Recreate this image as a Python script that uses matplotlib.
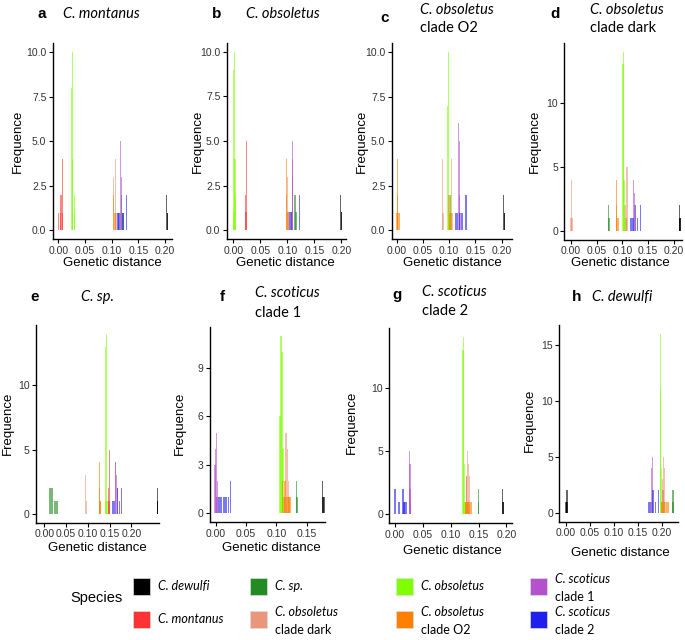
import matplotlib
matplotlib.use("Agg")
import matplotlib.pyplot as plt
from matplotlib.patches import Rectangle

W, H = 685, 640

# ---------------- species ----------------
SPECIES = ["dew", "mon", "sp", "dark", "obs", "o2", "sc1", "sc2"]
SPECIES_LABELS = ["C. dewulfi", "C. montanus", "C. sp.", "C. obsoletus\nclade dark",
                  "C. obsoletus", "C. obsoletus\nclade O2", "C. scoticus\nclade 1",
                  "C. scoticus\nclade 2"]
SPECIES_COLORS = ["#000000", "#FF3333", "#228B22", "#E9967A",
                  "#7FFF00", "#FF7F00", "#B452CD", "#2020EE"]

# ---------------- data: (species, distance, count) per panel ----------------
A_SP = ["mon", "mon", "mon", "mon", "mon",
        "obs", "obs", "obs", "obs", "obs", "obs",
        "o2", "o2", "o2", "dark", "dark", "dark",
        "sc1", "sc1", "sc1", "sc2", "sc2", "sc2", "sc2",
        "sp", "sp", "dew", "dew", "dew"]
A_X = [0.001, 0.004, 0.005, 0.008, 0.008,
       0.025, 0.026, 0.027, 0.026, 0.031, 0.031,
       0.104, 0.105, 0.107, 0.103, 0.107, 0.108,
       0.117, 0.118, 0.116, 0.112, 0.114, 0.121, 0.128,
       0.119, 0.121, 0.203, 0.204, 0.204]
A_H = [1, 1, 2, 4, 1,
       8, 10, 4, 1, 2, 1,
       2, 1, 1, 3, 4, 1,
       5, 3, 1, 1, 1, 1, 2,
       2, 1, 2, 1, 1]

B_SP = ["obs", "obs", "obs", "obs", "obs", "obs",
        "mon", "mon", "mon", "mon",
        "o2", "o2", "o2", "o2", "dark", "dark",
        "sc1", "sc1", "sc1", "sc1", "sc2", "sc2", "sc2", "sc2",
        "sp", "sp", "dew", "dew", "dew"]
B_X = [0.000, 0.002, 0.003, 0.0045, 0.001, 0.002,
       0.022, 0.022, 0.025, 0.024,
       0.098, 0.099, 0.100, 0.102, 0.100, 0.101,
       0.110, 0.109, 0.110, 0.108, 0.104, 0.106, 0.108, 0.123,
       0.114, 0.116, 0.198, 0.200, 0.200]
B_H = [9, 10, 4, 2, 1, 1,
       2, 1, 5, 1,
       4, 2, 1, 1, 3, 1,
       5, 4, 3, 1, 1, 1, 1, 2,
       2, 1, 2, 1, 1]

C_SP = ["o2", "o2", "o2", "o2", "o2", "o2",
        "dark", "dark", "dark", "dark",
        "obs", "obs", "obs", "obs", "obs",
        "o2", "o2", "o2", "mon", "mon", "sp",
        "sc1", "sc1", "sc1", "sc1",
        "sc2", "sc2", "sc2", "sc2", "sc2", "sc2",
        "dew", "dew", "dew"]
C_X = [0.001, 0.001, 0.000, 0.002, 0.004, 0.006,
       0.087, 0.088, 0.105, 0.106,
       0.098, 0.097, 0.099, 0.100, 0.102,
       0.100, 0.103, 0.104, 0.099, 0.100, 0.103,
       0.118, 0.119, 0.120, 0.121,
       0.113, 0.116, 0.120, 0.123, 0.126, 0.132,
       0.204, 0.205, 0.205]
C_H = [4, 2, 1, 1, 1, 1,
       4, 1, 4, 1,
       10, 7, 1, 1, 2,
       2, 1, 1, 2, 1, 2,
       6, 5, 2, 1,
       1, 1, 1, 1, 1, 2,
       2, 1, 1]

D_SP = ["dark", "dark", "dark", "sp", "sp",
        "o2", "o2", "o2", "o2", "o2",
        "obs", "obs", "obs", "obs", "obs",
        "dark", "dark", "dark", "dark", "mon",
        "sc1", "sc1", "sc1",
        "sc2", "sc2", "sc2", "sc2", "sc2", "sc2",
        "dew", "dew", "dew"]
D_X = [0.000, 0.001, 0.002, 0.073, 0.074,
       0.088, 0.088, 0.089, 0.091, 0.093,
       0.102, 0.101, 0.103, 0.104, 0.106,
       0.109, 0.105, 0.106, 0.108, 0.108,
       0.122, 0.124, 0.123,
       0.117, 0.119, 0.121, 0.126, 0.129, 0.136,
       0.211, 0.212, 0.212]
D_H = [1, 4, 1, 2, 1,
       4, 2, 1, 1, 1,
       14, 13, 4, 1, 1,
       5, 2, 1, 1, 1,
       4, 3, 2,
       1, 1, 1, 2, 1, 2,
       2, 1, 1]

E_SP = ["sp", "sp", "sp", "sp", "sp", "sp", "sp", "sp",
        "dark", "dark",
        "o2", "o2", "o2", "o2", "o2",
        "obs", "obs", "obs", "obs", "obs",
        "mon", "mon", "mon", "mon",
        "sc1", "sc1", "sc1", "sc1",
        "sc2", "sc2", "sc2", "sc2", "sc2", "sc2",
        "dew", "dew", "dew"]
E_X = [0.012, 0.014, 0.016, 0.018, 0.023, 0.025, 0.027, 0.030,
       0.094, 0.096,
       0.126, 0.127, 0.127, 0.129, 0.130,
       0.140, 0.142, 0.141, 0.143, 0.144,
       0.149, 0.147, 0.148, 0.150,
       0.163, 0.164, 0.166, 0.167,
       0.157, 0.159, 0.161, 0.167, 0.172, 0.178,
       0.259, 0.260, 0.260]
E_H = [2, 2, 2, 2, 1, 1, 1, 1,
       3, 1,
       4, 2, 1, 1, 1,
       13, 14, 1, 1, 1,
       5, 2, 1, 1,
       4, 4, 3, 2,
       1, 1, 1, 2, 1, 2,
       2, 1, 1]

F_SP = ["sc1", "sc1", "sc1", "sc1", "sc1", "sc1",
        "sc2", "sc2", "sc2", "sc2", "sc2", "sc2", "sc2", "sc2",
        "obs", "obs", "obs", "obs", "obs", "obs",
        "mon", "mon",
        "o2", "o2", "o2", "o2", "o2", "o2",
        "dark", "dark", "dark", "dark",
        "sp", "sp", "dew", "dew", "dew"]
F_X = [-0.001, 0.000, 0.001, 0.003, 0.002, 0.001,
       0.0044, 0.0071, 0.0099, 0.0126, 0.0154, 0.0181, 0.0209, 0.0247,
       0.106, 0.1075, 0.109, 0.111, 0.110, 0.112,
       0.112, 0.113,
       0.110, 0.114, 0.117, 0.119, 0.121, 0.122,
       0.116, 0.118, 0.120, 0.116,
       0.133, 0.134, 0.176, 0.177, 0.178]
F_H = [3, 4, 5, 2, 1, 1,
       1, 1, 1, 1, 1, 1, 1, 2,
       6, 11, 10, 4, 1, 1,
       1, 1,
       2, 2, 1, 1, 1, 1,
       5, 4, 2, 1,
       2, 1, 2, 1, 1]

G_SP = ["sc2", "sc2", "sc2", "sc2", "sc2", "sc2",
        "sc1", "sc1", "sc1", "sc1",
        "obs", "obs", "obs", "obs", "obs",
        "dark", "dark", "dark", "dark", "mon", "mon",
        "o2", "o2", "o2", "o2", "o2", "o2",
        "sp", "sp", "dew", "dew", "dew"]
G_X = [0.000, 0.007, 0.014, 0.016, 0.018, 0.020,
       0.026, 0.027, 0.027, 0.028,
       0.122, 0.123, 0.125, 0.126, 0.124,
       0.130, 0.132, 0.134, 0.129, 0.128, 0.127,
       0.126, 0.129, 0.131, 0.133, 0.135, 0.137,
       0.150, 0.150, 0.193, 0.194, 0.195]
G_H = [2, 1, 2, 1, 1, 1,
       5, 4, 2, 1,
       13, 14, 4, 1, 1,
       5, 4, 3, 1, 3, 1,
       1, 1, 1, 1, 1, 1,
       2, 1, 2, 1, 1]

H_SP = ["dew", "dew", "dew", "dew",
        "sc2", "sc2", "sc2", "sc2", "sc2", "sc2",
        "sc1", "sc1", "sc1",
        "obs", "obs", "obs", "obs", "obs",
        "dark", "dark", "dark", "dark", "dark",
        "o2", "o2", "o2", "o2", "o2", "o2",
        "mon", "mon", "sp", "sp"]
H_X = [0.000, 0.001, 0.002, 0.002,
       0.172, 0.174, 0.176, 0.182, 0.187, 0.193,
       0.179, 0.181, 0.180,
       0.197, 0.198, 0.200, 0.199, 0.201,
       0.204, 0.207, 0.202, 0.205, 0.208,
       0.201, 0.204, 0.207, 0.210, 0.213, 0.215,
       0.203, 0.203, 0.224, 0.224]
H_H = [1, 1, 2, 1,
       1, 1, 1, 2, 1, 2,
       4, 5, 1,
       11, 16, 4, 1, 1,
       5, 4, 3, 1, 1,
       1, 1, 1, 1, 1, 1,
       2, 1, 2, 1]

PANEL_LETTERS = ["a", "b", "c", "d", "e", "f", "g", "h"]
PANEL_TITLES = ["C. montanus", "C. obsoletus", "C. obsoletus", "C. obsoletus",
                "C. sp.", "C. scoticus", "C. scoticus", "C. dewulfi"]
PANEL_SUBTITLES = ["", "", "clade O2", "clade dark", "", "clade 1", "clade 2", ""]

# ---------------- layout (pixels) ----------------
PANELS = [
    dict(d=(A_SP, A_X, A_H), r=(52.7, 43, 171.7, 239.3), xl=(-0.0105, 0.2125), yl=(-0.5, 10.5),
         xt=[0, 0.05, 0.10, 0.15, 0.20], yt=[0, 2.5, 5, 7.5, 10], yf="%.1f"),
    dict(d=(B_SP, B_X, B_H), r=(226.7, 42.7, 346, 239.3), xl=(-0.0122, 0.2085), yl=(-0.5, 10.5),
         xt=[0, 0.05, 0.10, 0.15, 0.20], yt=[0, 2.5, 5, 7.5, 10], yf="%.1f"),
    dict(d=(C_SP, C_X, C_H), r=(391.7, 43.3, 511.7, 239.3), xl=(-0.0095, 0.219), yl=(-0.5, 10.5),
         xt=[0, 0.05, 0.10, 0.15, 0.20], yt=[0, 2.5, 5, 7.5, 10], yf="%.1f"),
    dict(d=(D_SP, D_X, D_H), r=(564.3, 42.7, 682, 240), xl=(-0.013, 0.216), yl=(-0.7, 14.7),
         xt=[0, 0.05, 0.10, 0.15, 0.20], yt=[0, 5, 10], yf="%d"),
    dict(d=(E_SP, E_X, E_H), r=(36, 325, 158.5, 522.7), xl=(-0.019, 0.262), yl=(-0.7, 14.7),
         xt=[0, 0.05, 0.10, 0.15, 0.20], yt=[0, 5, 10], yf="%d"),
    dict(d=(F_SP, F_X, F_H), r=(210, 326.7, 325, 522.3), xl=(-0.0094, 0.180), yl=(-0.55, 11.55),
         xt=[0, 0.05, 0.10, 0.15], yt=[0, 3, 6, 9], yf="%d"),
    dict(d=(G_SP, G_X, G_H), r=(389.3, 328.3, 512, 523.3), xl=(-0.0103, 0.210), yl=(-0.7, 14.7),
         xt=[0, 0.05, 0.10, 0.15, 0.20], yt=[0, 5, 10], yf="%d"),
    dict(d=(H_SP, H_X, H_H), r=(559.3, 325, 678.3, 521.7), xl=(-0.014, 0.235), yl=(-0.8, 16.8),
         xt=[0, 0.05, 0.10, 0.15, 0.20], yt=[0, 5, 10, 15], yf="%d"),
]
TITLE_POS = [(42, 14, 63, 14, None), (217, 14, 246, 14, None),
             (385, 18, 420, 10, 28), (555, 14, 590, 10, 28),
             (35, 297, 81, 297, None), (222, 297, 255, 293, 313),
             (397, 295, 422, 292, 311), (577, 297, 592, 297, None)]
YLAB_POS = [(18, 141), (198, 141), (362, 141), (535, 141),
            (8, 423), (180, 423), (352, 422), (530, 420)]
XLAB_POS = [(112, 263), (285, 263), (452, 263), (620, 263),
            (97, 548), (271, 548), (452, 551), (620, 553)]

SANS = ["Liberation Sans", "DejaVu Sans"]
ITAL = ["Lato", "DejaVu Sans"]

fig = plt.figure(figsize=(W / 100, H / 100), dpi=100)
color_of = dict(zip(SPECIES, SPECIES_COLORS))
BAR_W = 0.0024

for i, p in enumerate(PANELS):
    l, t, r, b = p["r"]
    ax = fig.add_axes([l / W, 1 - b / H, (r - l) / W, (b - t) / H])
    sp_list, xs, hs = p["d"]
    for sp in SPECIES:
        xx = [x for s, x in zip(sp_list, xs) if s == sp]
        hh = [h for s, h in zip(sp_list, hs) if s == sp]
        if xx:
            ax.bar(xx, hh, width=BAR_W, color=color_of[sp], alpha=0.6,
                   linewidth=0, align="center")
    ax.set_xlim(*p["xl"])
    ax.set_ylim(*p["yl"])
    ax.set_xticks(p["xt"])
    ax.set_xticklabels(["%.2f" % v for v in p["xt"]])
    ax.set_yticks(p["yt"])
    ax.set_yticklabels([p["yf"] % v for v in p["yt"]])
    for s in ["top", "right"]:
        ax.spines[s].set_visible(False)
    for s in ["left", "bottom"]:
        ax.spines[s].set_linewidth(1.0)
        ax.spines[s].set_color("black")
    ax.tick_params(axis="both", length=3, width=0.8, labelsize=7.5, pad=1.5,
                   colors="black")
    for lab in ax.get_xticklabels() + ax.get_yticklabels():
        lab.set_family(SANS)
        lab.set_color("#333333")
    ax.patch.set_alpha(0)

    lx, ly, nx, ny, sy = TITLE_POS[i]
    fig.text(lx / W, 1 - ly / H, PANEL_LETTERS[i], ha="center", va="center",
             fontsize=11, fontweight="bold", family=SANS)
    fig.text(nx / W, 1 - ny / H, PANEL_TITLES[i], ha="left", va="center",
             fontsize=10.5, style="italic", family=ITAL)
    if sy is not None:
        fig.text(nx / W, 1 - sy / H, PANEL_SUBTITLES[i], ha="left", va="center",
                 fontsize=10.5, family=ITAL)
    yx, yy = YLAB_POS[i]
    fig.text(yx / W, 1 - yy / H, "Frequence", rotation=90, ha="center", va="center",
             fontsize=9.5, family=SANS)
    xx_, xy_ = XLAB_POS[i]
    fig.text(xx_ / W, 1 - xy_ / H, "Genetic distance", ha="center", va="center",
             fontsize=9.5, family=SANS)

# ---------------- legend ----------------
fig.text(96 / W, 1 - 598 / H, "Species", ha="center", va="center", fontsize=10.5, family=SANS)
LEG_COLS = [133, 250, 396, 530]
LEG_ROWS = [586, 619]
lax = fig.add_axes([0, 0, 1, 1])
lax.set_xlim(0, W)
lax.set_ylim(H, 0)
lax.axis("off")
for k, (lab, col) in enumerate(zip(SPECIES_LABELS, SPECIES_COLORS)):
    cx = LEG_COLS[k // 2]
    cy = LEG_ROWS[k % 2]
    lax.add_patch(Rectangle((cx, cy - 8.5), 17, 17, facecolor=col, edgecolor="#dddddd",
                            linewidth=0.5))
    lines = lab.split("\n")
    if len(lines) == 1:
        lax.text(cx + 25, cy, lines[0], ha="left", va="center", fontsize=9,
                 style="italic", family=ITAL)
    else:
        lax.text(cx + 25, cy - 7, lines[0], ha="left", va="center", fontsize=9,
                 style="italic", family=ITAL)
        lax.text(cx + 25, cy + 11, lines[1], ha="left", va="center", fontsize=9,
                 family=ITAL)

fig.savefig("out.png", dpi=100)
